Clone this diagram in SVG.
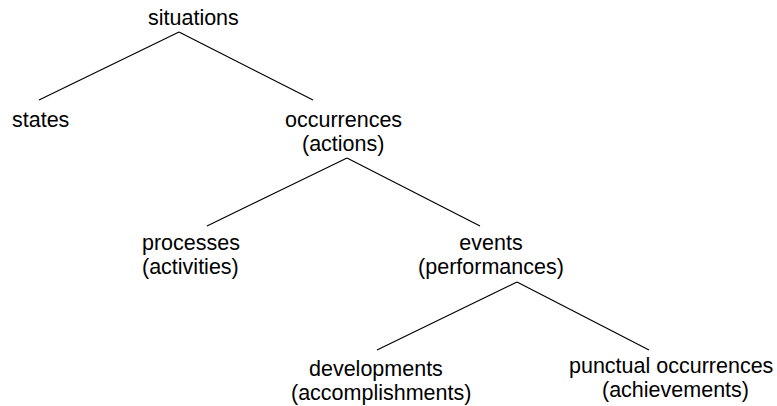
<svg xmlns="http://www.w3.org/2000/svg" width="777" height="406" viewBox="0 0 777 406">
<style>
text{font-family:"Liberation Sans",Arial,sans-serif;font-size:21.5px;fill:#000}
.c line{stroke:#000;stroke-width:1.2;fill:none}
</style>
<rect width="777" height="406" fill="#fff"/>
<g class="c" id="connectors">
<line x1="179" y1="32" x2="39" y2="100"/>
<line x1="179" y1="32" x2="313" y2="100"/>
<line x1="347" y1="158" x2="207" y2="226"/>
<line x1="347" y1="158" x2="480" y2="226"/>
<line x1="517" y1="282" x2="377" y2="350"/>
<line x1="517" y1="282" x2="649" y2="350"/>
</g>
<g id="situations"><text x="148" y="25">situations</text></g>
<g id="states"><text x="12" y="127">states</text></g>
<g id="occurrences"><text x="285" y="127">occurrences</text><text x="302" y="151">(actions)</text></g>
<g id="processes"><text x="142" y="250">processes</text><text x="142" y="274">(activities)</text></g>
<g id="events"><text x="491" y="250" text-anchor="middle">events</text><text x="491" y="274" text-anchor="middle">(performances)</text></g>
<g id="developments"><text x="309" y="376">developments</text><text x="291" y="400">(accomplishments)</text></g>
<g id="punctual"><text x="569" y="373">punctual occurrences</text><text x="602" y="397">(achievements)</text></g>
</svg>
